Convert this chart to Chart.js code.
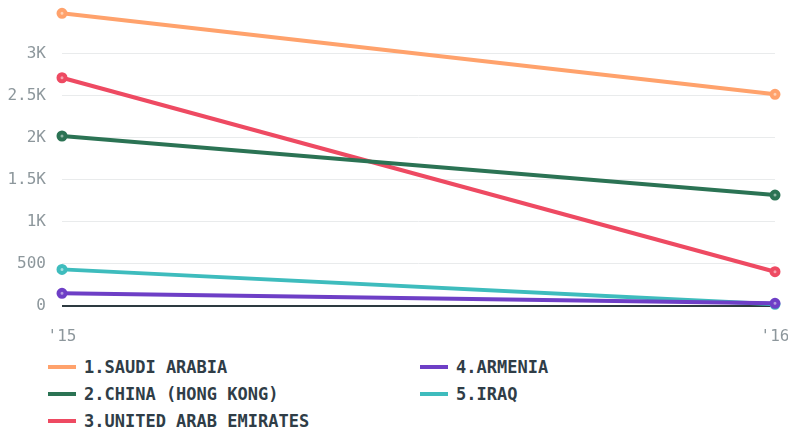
<!DOCTYPE html>
<html>
<head>
<meta charset="utf-8">
<script src="https://cdn.jsdelivr.net/npm/chart.js@4"></script>
<style>
  body { margin: 0; background: #fff; }
  #wrap { position: relative; width: 788px; height: 432px; overflow: hidden; }
  #box { position: absolute; left: 0; top: 0; width: 788px; height: 345px; }
  #legend {
    position: absolute; left: 48px; top: 353px;
    display: grid; grid-auto-flow: column;
    grid-template-rows: repeat(3, 27px);
    grid-template-columns: 372px 300px;
    font-family: "DejaVu Sans Mono", monospace; font-weight: bold;
    font-size: 17px; color: #2f3d47;
  }
  .item { display: flex; align-items: center; }
  .sw { width: 28px; height: 4px; margin-right: 8px; }
</style>
</head>
<body>
<div id="wrap">
  <div id="box"><canvas id="grafico"></canvas></div>
  <div id="legend"></div>
</div>
<script>
// datos
const years = ["'15", "'16"];
const countries = ["1.SAUDI ARABIA", "2.CHINA (HONG KONG)", "3.UNITED ARAB EMIRATES", "4.ARMENIA", "5.IRAQ"];
const saudiArabia = [3476, 2514];
const chinaHongKong = [2019, 1318];
const uae = [2711, 407];
const armenia = [150, 32];
const iraq = [435, 20];
const yTicks = [0, 500, 1000, 1500, 2000, 2500, 3000];
const colores = ['#ffa26c', '#2b7354', '#ee4a62', '#6e3fc6', '#3ebcbd'];
// centro de los puntos, un poco mas claro
const centros = ['#ffd2b6', '#8fb5a4', '#f7a2ae', '#b39ce0', '#a4e0e0'];

const series = [saudiArabia, chinaHongKong, uae, armenia, iraq];

// leyenda en html (orden por columnas)
const legend = document.getElementById('legend');
countries.forEach((name, i) => {
  const it = document.createElement('div');
  it.className = 'item';
  it.innerHTML = `<span class="sw" style="background:${colores[i]}"></span><span>${name}</span>`;
  legend.appendChild(it);
});

const ctx = document.getElementById('grafico').getContext('2d');
new Chart(ctx, {
  type: 'line',
  data: {
    labels: years,
    datasets: series.map((d, i) => ({
      label: countries[i],
      data: d,
      borderColor: colores[i],
      backgroundColor: colores[i],
      pointBackgroundColor: centros[i],
      pointBorderColor: colores[i],
      borderWidth: 4,
      pointRadius: 3.5,
      pointBorderWidth: 4,
      tension: 0,
      fill: false,
      clip: false
    }))
  },
  options: {
    responsive: true,
    maintainAspectRatio: false,
    animation: false,
    layout: { padding: 0 },
    plugins: {
      legend: { display: false },
      tooltip: { enabled: false }
    },
    scales: {
      x: {
        offset: false,
        grid: { display: false, drawTicks: false },
        border: { display: false },
        ticks: {
          color: '#8d979c',
          padding: 21,
          maxRotation: 0,
          font: { family: 'DejaVu Sans Mono', size: 16 }
        },
        afterFit: s => { s.height = 39; s.paddingRight = 13; }
      },
      y: {
        min: 0,
        max: 3480,
        border: { display: false },
        afterBuildTicks: s => { s.ticks = yTicks.map(v => ({ value: v })); },
        afterFit: s => { s.width = 62; s.paddingTop = 13; s.paddingBottom = 0; },
        grid: {
          drawTicks: false,
          color: c => c.tick && c.tick.value === 0 ? '#2d3a40' : '#e9ebec',
          lineWidth: c => c.tick && c.tick.value === 0 ? 2 : 1
        },
        ticks: {
          color: '#8d979c',
          padding: 16,
          font: { family: 'DejaVu Sans Mono', size: 16 },
          callback: v => v >= 1000 ? (v / 1000) + 'K' : v
        }
      }
    }
  }
});
</script>
</body>
</html>
